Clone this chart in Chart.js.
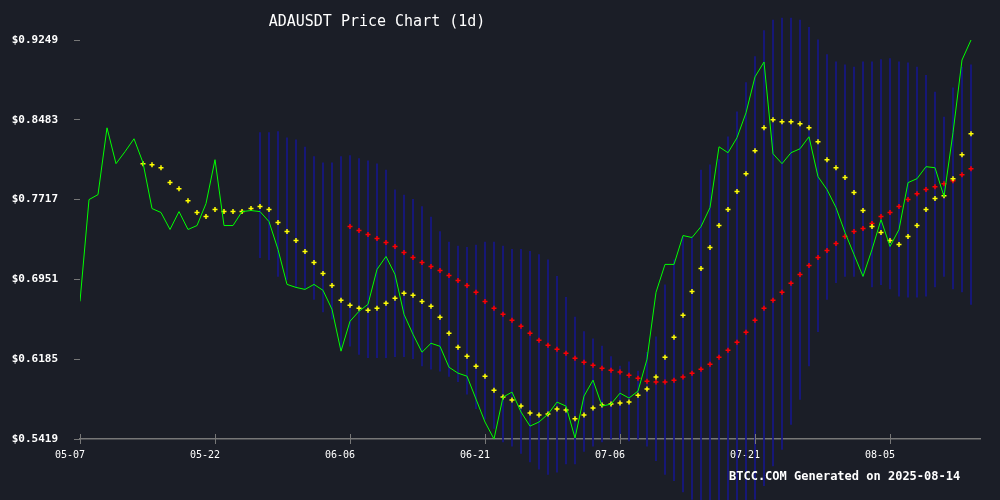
<!DOCTYPE html>
<html><head><meta charset="utf-8">
<script src="https://cdn.jsdelivr.net/npm/chart.js@4"></script>
<style>html,body{margin:0;padding:0;background:#1b1e27;}canvas{display:block;}</style>
</head><body>
<canvas id="c" width="1000" height="500"></canvas>
<script>
const startDate = '2025-05-07';
const dateTickLabels = ['05-07','05-22','06-06','06-21','07-06','07-21','08-05'];
const yTickValues = [0.5419, 0.6185, 0.6951, 0.7717, 0.8483, 0.9249];
const yTickLabels = ['$0.5419','$0.6185','$0.6951','$0.7717','$0.8483','$0.9249'];

const price = [0.6740,0.7717,0.7765,0.8406,0.8062,0.8177,0.8301,0.8071,0.7631,0.7593,
0.7430,0.7602,0.7430,0.7468,0.7679,0.8100,0.7468,0.7468,0.7602,0.7612,
0.7602,0.7506,0.7238,0.6903,0.6874,0.6855,0.6903,0.6846,0.6664,0.6262,
0.6549,0.6645,0.6712,0.7047,0.7171,0.6999,0.6616,0.6424,0.6252,0.6338,
0.6309,0.6108,0.6051,0.6022,0.5802,0.5582,0.5419,0.5821,0.5869,0.5678,
0.5543,0.5582,0.5658,0.5773,0.5735,0.5429,0.5831,0.5984,0.5735,0.5754,
0.5859,0.5812,0.5879,0.6185,0.6827,0.7095,0.7095,0.7372,0.7353,0.7458,
0.7640,0.8224,0.8167,0.8311,0.8550,0.8895,0.9038,0.8157,0.8062,0.8167,
0.8205,0.8320,0.7937,0.7813,0.7640,0.7401,0.7190,0.6980,0.7238,0.7525,
0.7267,0.7430,0.7880,0.7918,0.8033,0.8023,0.7746,0.8359,0.9057,0.9249];

const maShort = [null,null,null,null,null,null,null,0.8062,0.8052,0.8023,
0.7880,0.7822,0.7707,0.7593,0.7554,0.7621,0.7602,0.7602,0.7602,0.7631,
0.7650,0.7621,0.7497,0.7411,0.7324,0.7219,0.7114,0.7008,0.6893,0.6750,
0.6702,0.6673,0.6654,0.6673,0.6721,0.6769,0.6817,0.6798,0.6740,0.6693,
0.6587,0.6434,0.6300,0.6214,0.6118,0.6022,0.5888,0.5821,0.5793,0.5735,
0.5668,0.5649,0.5658,0.5706,0.5697,0.5613,0.5649,0.5716,0.5745,0.5754,
0.5764,0.5773,0.5840,0.5898,0.6013,0.6204,0.6396,0.6606,0.6836,0.7056,
0.7257,0.7468,0.7621,0.7794,0.7966,0.8186,0.8406,0.8483,0.8464,0.8464,
0.8445,0.8406,0.8272,0.8100,0.8023,0.7928,0.7784,0.7612,0.7458,0.7401,
0.7324,0.7286,0.7363,0.7468,0.7621,0.7727,0.7755,0.7918,0.8148,0.8349];

const maLong = [null,null,null,null,null,null,null,null,null,null,
null,null,null,null,null,null,null,null,null,null,
null,null,null,null,null,null,null,null,null,null,
0.7458,0.7420,0.7382,0.7344,0.7305,0.7267,0.7210,0.7162,0.7114,0.7075,
0.7037,0.6989,0.6941,0.6893,0.6827,0.6740,0.6673,0.6616,0.6558,0.6501,
0.6434,0.6367,0.6319,0.6281,0.6242,0.6194,0.6156,0.6128,0.6099,0.6080,
0.6061,0.6032,0.6003,0.5974,0.5965,0.5965,0.5984,0.6013,0.6051,0.6089,
0.6137,0.6204,0.6271,0.6348,0.6444,0.6558,0.6673,0.6750,0.6827,0.6913,
0.6999,0.7085,0.7162,0.7229,0.7296,0.7363,0.7411,0.7439,0.7487,0.7554,
0.7593,0.7650,0.7717,0.7774,0.7813,0.7841,0.7870,0.7899,0.7956,0.8014];

const bandHigh = [null,null,null,null,null,null,null,null,null,null,
null,null,null,null,null,null,null,null,null,null,
0.836,0.836,0.837,0.831,0.829,0.822,0.813,0.807,0.807,0.813,
0.814,0.811,0.809,0.806,0.800,0.781,0.776,0.772,0.765,0.755,
0.741,0.731,0.727,0.726,0.728,0.731,0.731,0.727,0.724,0.724,
0.722,0.719,0.714,0.698,0.678,0.659,0.645,0.638,0.631,0.621,
0.612,0.616,0.607,0.625,0.640,0.690,0.714,0.736,0.736,0.800,
0.805,0.810,0.832,0.856,0.884,0.909,0.934,0.944,0.946,0.946,
0.944,0.937,0.925,0.911,0.904,0.901,0.899,0.904,0.904,0.906,
0.907,0.904,0.903,0.899,0.891,0.875,0.851,0.879,0.899,0.901];

const bandLow = [null,null,null,null,null,null,null,null,null,null,
null,null,null,null,null,null,null,null,null,null,
0.716,0.714,0.698,0.695,0.688,0.686,0.676,0.664,0.657,0.628,
0.631,0.623,0.620,0.620,0.620,0.621,0.621,0.619,0.612,0.609,
0.607,0.602,0.597,0.585,0.571,0.561,0.552,0.539,0.535,0.528,
0.520,0.513,0.508,0.510,0.518,0.518,0.530,0.535,0.539,0.542,
0.542,0.540,0.542,0.535,0.521,0.508,0.502,0.491,0.484,0.480,
0.475,0.475,0.475,0.475,0.480,0.484,0.497,0.516,0.532,0.556,
0.580,0.612,0.645,0.676,0.692,0.698,0.698,0.698,0.688,0.690,
0.686,0.679,0.678,0.678,0.679,0.688,0.698,0.686,0.683,0.671];

const toXY = arr => arr.map((v,i)=> v==null?null:{x:i,y:v}).filter(p=>p);
const bandData = bandHigh.map((h,i)=> h==null?null:{x:i,y:[bandLow[i],h]}).filter(p=>p);

const mono = '"DejaVu Sans Mono", monospace';
const textPlugin = {
  id:'texts',
  afterDraw(chart){
    const ctx = chart.ctx;
    ctx.save();
    // x tick marks crossing the axis
    const xs = chart.scales.x, y0 = chart.chartArea.bottom;
    ctx.strokeStyle = '#777777'; ctx.lineWidth = 1;
    dateTickLabels.forEach((l,i)=>{
      const px = Math.round(xs.getPixelForValue(i*15))+0.5;
      ctx.beginPath(); ctx.moveTo(px, y0-5); ctx.lineTo(px, y0+5); ctx.stroke();
    });
    ctx.fillStyle = '#ffffff';
    ctx.textBaseline = 'middle';
    ctx.textAlign = 'center';
    ctx.font = '15px ' + mono;
    ctx.fillText('ADAUSDT Price Chart (1d)', 377, 22);
    ctx.textAlign = 'left';
    ctx.font = 'bold 12px ' + mono;
    ctx.fillText('BTCC.COM Generated on 2025-08-14', 729, 477);
    ctx.restore();
  }
};

new Chart(document.getElementById('c'), {
  type:'bar',
  data:{datasets:[
    {type:'line', data:toXY(price), borderColor:'#00ff00', borderWidth:1, pointRadius:0, tension:0, order:1},
    {type:'line', data:toXY(maShort), showLine:false, pointStyle:'cross', pointRadius:2.5, borderColor:'#ffff00', borderWidth:1.5, backgroundColor:'#ffff00', order:2},
    {type:'line', data:toXY(maLong), showLine:false, pointStyle:'cross', pointRadius:2.5, borderColor:'#ff0000', borderWidth:1.5, backgroundColor:'#ff0000', order:3},
    {type:'bar', data:bandData, backgroundColor:'#16168a', barThickness:1, clip:false, order:4}
  ]},
  options:{
    responsive:false, animation:false, devicePixelRatio:1,
    layout:{padding:{top:40,right:20,left:0,bottom:0}},
    plugins:{legend:{display:false}, tooltip:{enabled:false}},
    scales:{
      x:{type:'linear', min:0, max:100, offset:false,
        afterFit(s){s.height=61;},
        afterBuildTicks(s){s.ticks=dateTickLabels.map((l,i)=>({value:i*15}));},
        ticks:{color:'#ffffff', font:{family:mono,size:10}, padding:4, labelOffset:-10, maxRotation:0,
          callback:(v)=>dateTickLabels[Math.round(v/15)]},
        grid:{drawOnChartArea:false, display:true, drawTicks:true, color:'rgba(0,0,0,0)', tickLength:6},
        border:{display:true, color:'#777777', width:1.5}
      },
      y:{min:0.5419, max:0.9249,
        afterFit(s){s.width=80;},
        afterBuildTicks(s){s.ticks=yTickValues.map(v=>({value:v}));},
        ticks:{color:'#ffffff', font:{family:mono,size:11,weight:'bold'}, padding:16,
          callback:(v)=>yTickLabels[yTickValues.findIndex(t=>Math.abs(t-v)<1e-6)]},
        grid:{drawOnChartArea:false, color:'#777777', tickLength:6},
        border:{display:false}
      }
    }
  },
  plugins:[textPlugin]
});
</script>
</body></html>
